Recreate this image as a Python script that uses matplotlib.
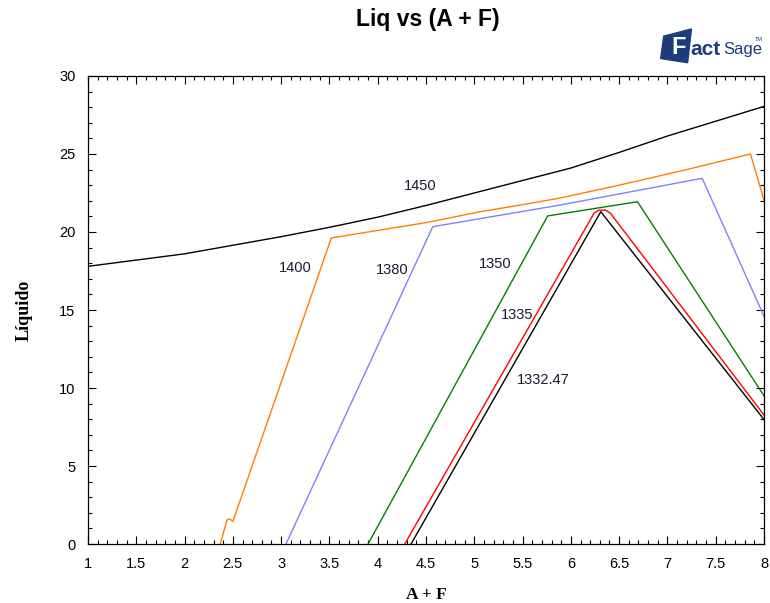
import matplotlib
matplotlib.use("Agg")
import matplotlib.pyplot as plt
from matplotlib.patches import Polygon
from matplotlib.ticker import MultipleLocator

# isotherms of liquid fraction vs (A + F)
x_1450 = [1, 1.5, 2, 2.5, 3, 3.5, 4, 4.5, 5, 5.5, 6, 6.5, 7, 7.5, 8]
y_1450 = [17.8, 18.2, 18.6, 19.15, 19.7, 20.3, 20.95, 21.7, 22.5, 23.3, 24.1, 25.1, 26.15, 27.1, 28.05]

x_1400 = [2.37, 2.44, 2.47, 2.5, 3.52, 4.0, 4.5, 5.06, 5.5, 5.89, 6.5, 7.2, 7.86, 8.0]
y_1400 = [0, 1.55, 1.6, 1.45, 19.62, 20.1, 20.6, 21.3, 21.75, 22.18, 23.0, 24.0, 25.0, 22.05]

x_1380 = [3.05, 4.57, 5.89, 7.36, 8.0]
y_1380 = [0, 20.34, 21.73, 23.44, 14.6]

x_1350 = [3.9, 5.76, 6.69, 8.0]
y_1350 = [0, 21.03, 21.94, 9.5]

x_1335 = [4.28, 6.24, 6.29, 6.36, 6.41, 8.0]
y_1335 = [0, 21.2, 21.4, 21.4, 21.2, 8.27]

x_1332 = [4.345, 6.31, 8.0]
y_1332 = [0, 21.3, 7.98]

series = [
    (x_1450, y_1450, "black", "1450", 4.44, 22.95),
    (x_1400, y_1400, "#ff8000", "1400", 3.15, 17.7),
    (x_1380, y_1380, "#8080ff", "1380", 4.15, 17.56),
    (x_1350, y_1350, "#008000", "1350", 5.22, 17.95),
    (x_1335, y_1335, "#ff0000", "1335", 5.44, 14.68),
    (x_1332, y_1332, "black", "1332.47", 5.71, 10.5),
]

plt.rcParams['font.family'] = ['Liberation Sans', 'DejaVu Sans']

fig = plt.figure(figsize=(7.7, 6.03), dpi=100)
ax = fig.add_axes([0.1143, 0.0978, 0.8779, 0.7762])

for xs, ys, col, lab, lx, ly in series:
    ax.plot(xs, ys, color=col, lw=1.0)
    ax.text(lx, ly, lab, fontsize=10.5, color="#1a1a2e", ha="center", va="center")

ax.set_xlim(1, 8)
ax.set_ylim(0, 30)
ax.xaxis.set_major_locator(MultipleLocator(0.5))
ax.xaxis.set_minor_locator(MultipleLocator(0.1))
ax.yaxis.set_major_locator(MultipleLocator(5))
ax.yaxis.set_minor_locator(MultipleLocator(1))
ax.xaxis.set_major_formatter(matplotlib.ticker.FuncFormatter(lambda v, p: f"{v:g}"))
ax.tick_params(which="both", direction="in", top=True, right=True, labelsize=10.5, width=0.8)
ax.tick_params(which="major", length=6)
ax.tick_params(which="minor", length=3)
ax.tick_params(axis="x", pad=9)
ax.tick_params(axis="y", pad=9)
for s in ax.spines.values():
    s.set_linewidth(0.9)

ax.set_xlabel("A + F", fontsize=12.5, fontweight="bold", family="Liberation Serif", labelpad=12)
ax.set_ylabel("Líquido", fontsize=13, fontweight="bold", family="Liberation Serif", labelpad=19)

fig.text(0.556, 0.968, "Liq vs (A + F)", fontsize=16.5, fontweight="bold", ha="center", va="center")

# FactSage logo
navy = "#1d3c7a"
fig.patches.append(Polygon([[0.862, 0.94], [0.898, 0.952], [0.893, 0.896], [0.858, 0.903]],
                           closed=True, transform=fig.transFigure, color=navy))
fig.text(0.872, 0.922, "F", fontsize=17, fontweight="bold", color="white", va="center", ha="left")
fig.text(0.897, 0.918, "act", fontsize=15, fontweight="bold", color=navy, va="center", ha="left")
fig.text(0.939, 0.918, "Sage", fontsize=12, color=navy, va="center", ha="left")
fig.text(0.981, 0.935, "TM", fontsize=4, color=navy, va="center", ha="left")

fig.savefig("out.png", dpi=100)
